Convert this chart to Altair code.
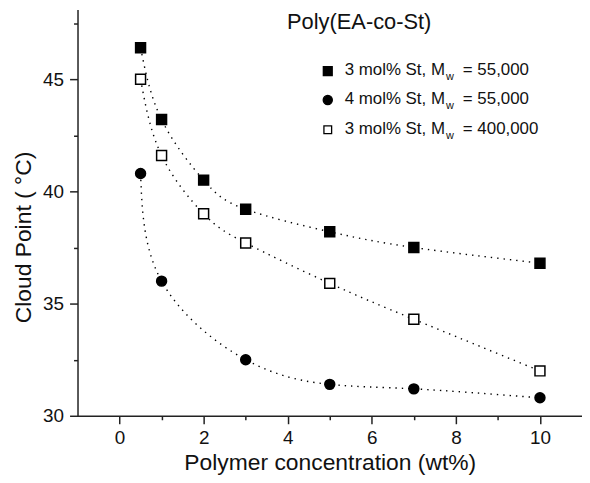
import altair as alt
import pandas as pd

FONT = "Liberation Sans"

series_names = ["3 mol% St, Mw = 55,000", "4 mol% St, Mw = 55,000", "3 mol% St, Mw = 400,000"]
conc_a = [0.5, 1, 2, 3, 5, 7, 10]
cp_a = [46.4, 43.2, 40.5, 39.2, 38.2, 37.5, 36.8]
conc_b = [0.5, 1, 3, 5, 7, 10]
cp_b = [40.8, 36.0, 32.5, 31.4, 31.2, 30.8]
conc_c = [0.5, 1, 2, 3, 5, 7, 10]
cp_c = [45.0, 41.6, 39.0, 37.7, 35.9, 34.3, 32.0]

x_ticks = list(range(0, 11))
y_ticks = [30, 32.5, 35, 37.5, 40, 42.5, 45, 47.5]

legend_prefix = ["3 mol% St, M", "4 mol% St, M", "3 mol% St, M"]
legend_suffix = ["= 55,000", "= 55,000", "= 400,000"]
legend_title = "Poly(EA-co-St)"

rows = []
for name, xs, ys in zip(series_names, [conc_a, conc_b, conc_c], [cp_a, cp_b, cp_c]):
    for xv, yv in zip(xs, ys):
        rows.append({"series": name, "conc": xv, "cp": yv})
df = pd.DataFrame(rows)

x_enc = alt.X(
    "conc:Q",
    scale=alt.Scale(domain=[-1, 11], nice=False, zero=False),
    axis=alt.Axis(
        values=x_ticks,
        labelExpr="datum.value % 2 === 0 ? datum.label : ''",
        tickSize={"condition": {"test": "datum.value % 2 === 0", "value": 8}, "value": 4},
        grid=False, domainColor="#222", tickColor="#222", domainWidth=1.5, tickWidth=1.5,
        labelFont=FONT, labelFontSize=19, labelColor="#111", labelPadding=5,
        titleFont=FONT, titleFontSize=23, titleFontWeight="normal", titleColor="#111",
        titlePadding=4, labelOverlap=False, labelFlush=False,
    ),
    title="Polymer concentration (wt%)",
)
y_enc = alt.Y(
    "cp:Q",
    scale=alt.Scale(domain=[30, 48.1], nice=False, zero=False),
    axis=alt.Axis(
        values=y_ticks,
        labelExpr="datum.value % 5 === 0 ? datum.label : ''",
        tickSize={"condition": {"test": "datum.value % 5 === 0", "value": 8}, "value": 4},
        grid=False, domainColor="#222", tickColor="#222", domainWidth=1.5, tickWidth=1.5,
        labelFont=FONT, labelFontSize=19, labelColor="#111", labelPadding=6,
        titleFont=FONT, titleFontSize=23, titleFontWeight="normal", titleColor="#111",
        titlePadding=7, titleY=229, labelOverlap=False, labelFlush=False,
    ),
    title="Cloud Point ( °C)",
)

base = alt.Chart(df)

lines = base.mark_line(
    interpolate="natural", color="black", strokeWidth=1.4, strokeDash=[1.4, 5]
).encode(x=x_enc, y=y_enc, detail="series:N", order="conc:Q")

styles = [
    ("square", "black", "black"),
    ("circle", "black", "black"),
    ("square", "white", "black"),
]
legend_sizes = [80, 85, 60]

point_layers = []
for name, (shape, fill, stroke) in zip(series_names, styles):
    point_layers.append(
        base.transform_filter(alt.datum.series == name).mark_point(
            shape=shape, filled=True, fill=fill, stroke=stroke, strokeWidth=1.5,
            size=100, opacity=1,
        ).encode(x=x_enc, y=y_enc)
    )

# manual legend (plot-area pixel coordinates)
legend_layers = []
legend_layers.append(
    alt.Chart(pd.DataFrame({"t": [legend_title]})).mark_text(
        font=FONT, fontSize=22, align="left", baseline="middle", color="#111"
    ).encode(x=alt.value(211), y=alt.value(13), text="t:N")
)
row_y = [61, 90, 120]
text_x = 269
for i, (shape, fill, stroke) in enumerate(styles):
    yv = row_y[i]
    legend_layers.append(
        alt.Chart(pd.DataFrame({"t": [0]})).mark_point(
            shape=shape, filled=True, fill=fill, stroke=stroke, strokeWidth=1.3,
            size=legend_sizes[i], opacity=1,
        ).encode(x=alt.value(252), y=alt.value(yv + 1))
    )
    legend_layers.append(
        alt.Chart(pd.DataFrame({"t": [legend_prefix[i]]})).mark_text(
            font=FONT, fontSize=17, align="left", baseline="middle", color="#111"
        ).encode(x=alt.value(text_x), y=alt.value(yv), text="t:N")
    )
    legend_layers.append(
        alt.Chart(pd.DataFrame({"t": ["w"]})).mark_text(
            font=FONT, fontSize=11, align="left", baseline="middle", color="#111"
        ).encode(x=alt.value(text_x + 102), y=alt.value(yv + 7), text="t:N")
    )
    legend_layers.append(
        alt.Chart(pd.DataFrame({"t": [legend_suffix[i]]})).mark_text(
            font=FONT, fontSize=17, align="left", baseline="middle", color="#111"
        ).encode(x=alt.value(text_x + 119), y=alt.value(yv), text="t:N")
    )

chart = alt.layer(lines, *point_layers, *legend_layers).properties(
    width=508, height=409,
    autosize=alt.AutoSizeParams(type="none"),
    padding={"left": 70, "top": 0, "right": 0, "bottom": 58},
    background="white",
).configure_view(stroke=None)

chart.save("out.html", embed_options={"renderer": "svg", "actions": False})
